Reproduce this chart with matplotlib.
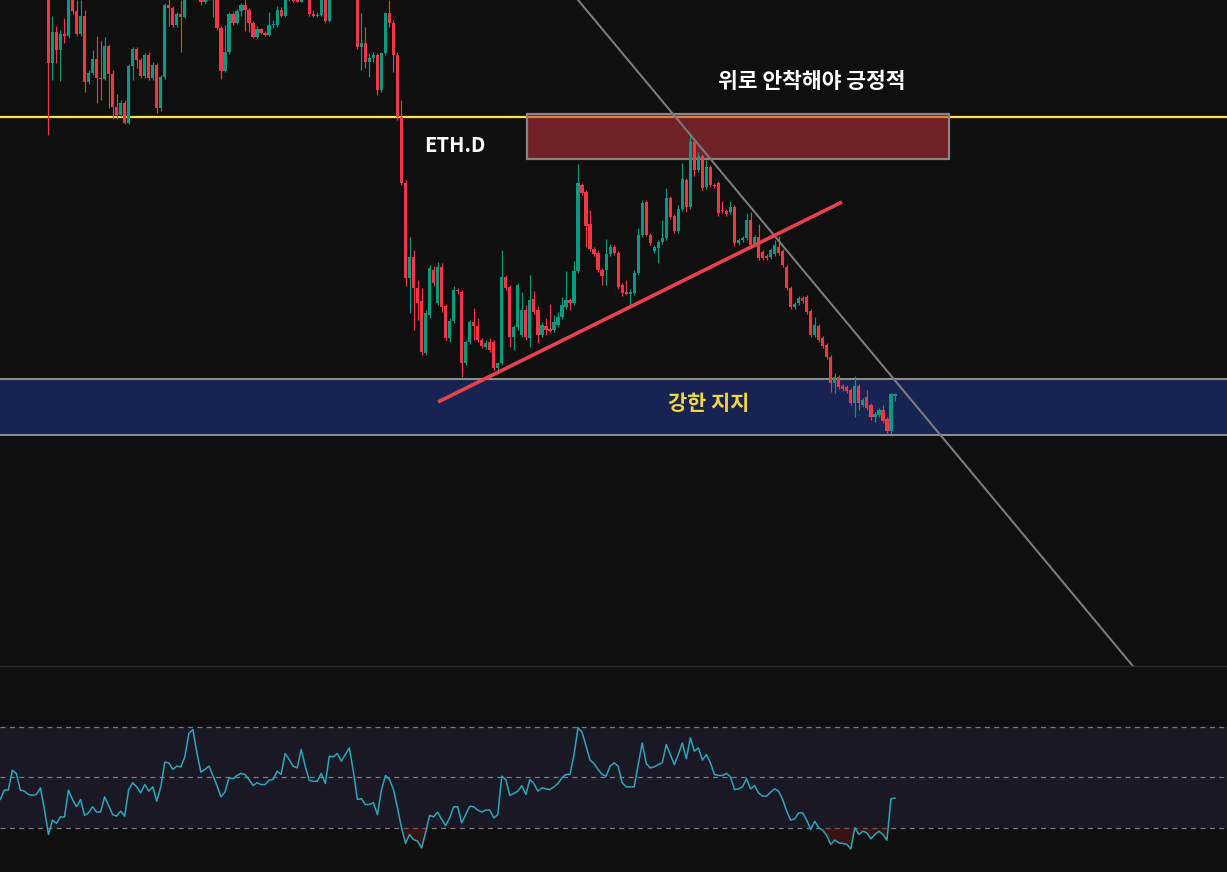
import numpy as np
import matplotlib
matplotlib.use('Agg')
import matplotlib.pyplot as plt
from matplotlib.patches import Rectangle
from matplotlib.lines import Line2D

plt.rcParams['font.family'] = ['Noto Sans CJK KR', 'DejaVu Sans']

# ETH.D candles (price %), oldest first
opens = [
    22.50, 22.60, 22.70, 22.70, 23.00, 22.95, 22.70, 22.67, 22.60, 22.57, 22.59, 22.68,
    22.30, 21.37, 21.68, 21.50, 21.66, 21.64, 22.10, 21.89, 21.66, 21.84,
    21.18, 21.27, 21.41, 21.22, 21.21, 21.54, 21.26, 20.93, 20.85, 20.97,
    20.77, 21.34, 21.51, 21.40, 21.24, 21.45, 21.22, 21.35, 20.92, 21.23,
    21.95, 21.92, 21.75, 21.86, 21.83, 22.08, 22.60, 22.85, 22.50, 21.98,
    22.04, 22.12, 22.03, 21.72, 21.29, 21.48, 21.86, 21.77, 21.89, 21.95,
    21.90, 21.77, 21.63, 21.71, 21.67, 21.65, 21.75, 21.75, 21.90, 21.84,
    22.03, 22.00, 21.99, 21.985, 22.20, 22.05, 21.86, 21.84, 21.85, 22.05,
    21.79, 22.10, 22.12, 22.20, 22.08, 22.18, 22.30, 22.10, 21.53, 21.57,
    21.38, 21.42, 21.45, 21.10, 21.47, 21.87, 21.77, 21.45, 20.83, 20.17,
    19.22, 19.43, 19.12, 18.99, 18.47, 18.85, 19.30, 18.97, 19.33, 18.94,
    18.62, 18.79, 19.10,
    19.08, 18.37, 18.58, 18.78, 18.74, 18.60, 18.53, 18.58, 18.58, 18.32,
    18.37, 19.23, 19.13, 18.63, 18.73,
    18.65, 18.90, 18.62, 19.01, 18.90, 18.65, 18.74, 18.71, 18.70, 18.75,
    18.83, 18.93, 19.00, 18.97, 19.29, 20.15, 20.08, 19.76, 19.51, 19.47,
    19.30, 19.30, 19.46, 19.53, 19.47, 19.15, 19.07, 19.06, 19.07, 19.27,
    19.65, 19.98, 19.65, 19.49, 19.52, 19.58, 19.62, 20.02, 19.84, 19.69,
    19.91, 20.20, 19.93, 20.58, 20.30, 20.44, 20.13, 20.33, 20.15, 20.17,
    19.90, 19.89, 19.88, 19.93, 19.57, 19.60, 19.62, 19.80, 19.55, 19.63,
    19.48, 19.44, 19.43, 19.46, 19.53, 19.49, 19.33, 19.12, 18.93, 18.97,
    19.02, 19.03, 18.89, 18.65, 18.74, 18.62, 18.55, 18.43, 18.17, 18.23,
    18.14, 18.13, 18.10, 17.97, 18.14, 17.95, 18.03, 17.95, 17.83, 17.85,
    17.90, 17.81, 17.69, 18.04,
]
highs = [
    22.66, 22.76, 22.78, 23.06, 23.04, 22.98, 22.75, 22.70, 22.65, 22.64, 22.72, 22.70,
    22.35, 21.84, 21.74, 21.70, 21.82, 22.20, 22.15, 22.00, 22.00, 21.90,
    21.30, 21.50, 21.64, 21.59, 21.63, 21.56, 21.30, 21.06, 21.00, 21.00,
    21.36, 21.53, 21.53, 21.42, 21.47, 21.48, 21.38, 21.37, 21.25, 21.97,
    22.02, 21.94, 21.88, 22.00, 22.15, 22.66, 22.95, 22.90, 22.55, 22.12,
    22.20, 22.16, 22.08, 21.74, 21.75, 21.88, 21.88, 21.91, 21.97, 22.05,
    21.92, 21.79, 21.74, 21.72, 21.69, 21.88, 21.80, 21.94, 21.93, 22.10,
    22.10, 22.06, 22.04, 22.26, 22.24, 22.08, 21.90, 21.88, 22.08, 22.10,
    22.15, 22.18, 22.25, 22.24, 22.22, 22.35, 22.34, 22.14, 21.87, 21.73,
    21.47, 21.48, 21.47, 21.48, 21.88, 22.00, 21.80, 21.48, 21.00, 20.20,
    19.63, 19.50, 19.20, 19.12, 18.90, 19.35, 19.34, 19.38, 19.37, 18.96,
    18.82, 19.14, 19.12,
    19.10, 18.60, 18.80, 18.92, 18.82, 18.62, 18.60, 18.62, 18.60, 18.38,
    19.50, 19.25, 19.15, 18.75, 19.17,
    19.08, 18.95, 19.25, 19.09, 18.94, 18.78, 18.82, 18.96, 18.85, 18.88,
    19.03, 19.29, 19.02, 19.39, 20.36, 20.17, 20.10, 19.90, 19.53, 19.50,
    19.32, 19.61, 19.56, 19.55, 19.49, 19.17, 19.20, 19.11, 19.30, 19.72,
    20.00, 20.00, 19.67, 19.55, 19.60, 19.80, 20.12, 20.04, 19.86, 19.95,
    20.37, 20.22, 20.67, 20.60, 20.48, 20.46, 20.40, 20.35, 20.17, 20.19,
    19.99, 19.91, 19.99, 19.95, 19.62, 19.64, 19.87, 19.88, 19.65, 19.76,
    19.50, 19.46, 19.52, 19.60, 19.64, 19.51, 19.35, 19.14, 18.98, 19.04,
    19.04, 19.05, 18.91, 18.83, 18.76, 18.64, 18.57, 18.45, 18.27, 18.25,
    18.16, 18.15, 18.12, 18.24, 18.16, 18.02, 18.10, 17.97, 17.88, 17.92,
    17.95, 17.83, 18.07, 18.07,
]
lows = [
    22.45, 22.55, 22.64, 22.66, 22.88, 22.65, 22.60, 22.55, 22.50, 22.52, 22.55, 22.25,
    20.65, 21.20, 21.37, 21.19, 21.57, 21.62, 21.86, 21.64, 21.64, 21.08,
    21.16, 21.25, 20.97, 21.00, 21.20, 20.92, 20.81, 20.81, 20.83, 20.76,
    20.76, 21.20, 21.32, 21.22, 21.22, 21.20, 21.20, 20.87, 20.89, 21.21,
    21.74, 21.73, 21.73, 21.48, 21.82, 22.05, 22.55, 22.45, 21.95, 21.96,
    22.00, 21.83, 21.70, 21.21, 21.28, 21.46, 21.75, 21.76, 21.84, 21.69,
    21.68, 21.62, 21.62, 21.66, 21.64, 21.64, 21.72, 21.73, 21.83, 21.83,
    21.99, 21.98, 21.98, 21.98, 22.02, 21.84, 21.83, 21.83, 21.84, 21.77,
    21.78, 22.05, 22.08, 22.03, 22.05, 22.14, 22.02, 21.51, 21.30, 21.32,
    21.23, 21.38, 21.05, 21.08, 21.45, 21.73, 21.28, 20.80, 20.15, 19.14,
    18.87, 18.70, 18.80, 18.45, 18.45, 18.82, 19.14, 18.95, 18.88, 18.60,
    18.58, 18.77, 19.06,
    18.23, 18.35, 18.56, 18.60, 18.58, 18.52, 18.51, 18.48, 18.30, 18.29,
    18.35, 19.10, 18.53, 18.50, 18.70,
    18.63, 18.60, 18.53, 18.86, 18.57, 18.63, 18.65, 18.68, 18.68, 18.73,
    18.81, 18.91, 18.90, 18.95, 19.27, 20.05, 19.53, 19.49, 19.44, 19.28,
    19.15, 19.15, 19.44, 19.45, 19.11, 19.04, 19.05, 18.93, 19.05, 19.25,
    19.63, 19.64, 19.55, 19.47, 19.37, 19.56, 19.60, 19.81, 19.67, 19.67,
    19.89, 19.88, 19.91, 20.24, 20.28, 20.10, 20.11, 20.13, 20.12, 19.84,
    19.87, 19.84, 19.86, 19.54, 19.55, 19.58, 19.60, 19.53, 19.53, 19.40,
    19.40, 19.40, 19.41, 19.44, 19.45, 19.33, 19.10, 18.91, 18.91, 18.95,
    18.97, 18.86, 18.63, 18.63, 18.58, 18.52, 18.41, 18.08, 18.07, 18.11,
    18.09, 18.07, 17.95, 17.83, 17.90, 17.93, 17.90, 17.80, 17.78, 17.83,
    17.77, 17.67, 17.66, 17.99,
]
closes = [
    22.60, 22.70, 22.705, 23.00, 22.95, 22.70, 22.67, 22.60, 22.57, 22.59, 22.68, 22.30,
    21.37, 21.68, 21.50, 21.66, 21.64, 22.10, 21.89, 21.66, 21.84, 21.18,
    21.27, 21.41, 21.22, 21.21, 21.54, 21.26, 20.93, 20.85, 20.97, 20.77,
    21.34, 21.51, 21.40, 21.24, 21.45, 21.22, 21.35, 20.92, 21.23, 21.95,
    21.92, 21.75, 21.86, 21.83, 22.08, 22.60, 22.85, 22.50, 21.98, 22.04,
    22.12, 22.03, 21.72, 21.29, 21.48, 21.86, 21.77, 21.89, 21.95, 21.90,
    21.77, 21.63, 21.71, 21.67, 21.65, 21.75, 21.76, 21.90, 21.84, 22.03,
    22.00, 21.99, 21.985, 22.20, 22.05, 21.86, 21.84, 21.85, 22.05, 21.79,
    22.10, 22.12, 22.20, 22.08, 22.18, 22.30, 22.10, 21.53, 21.57, 21.38,
    21.42, 21.45, 21.10, 21.47, 21.87, 21.77, 21.45, 20.83, 20.17, 19.22,
    19.43, 19.12, 18.97, 18.48, 18.87, 19.32, 19.17, 19.33, 18.93, 18.62,
    18.79, 19.10, 19.09,
    18.37, 18.58, 18.78, 18.74, 18.60, 18.54, 18.57, 18.50, 18.32, 18.37,
    19.23, 19.12, 18.63, 18.73, 19.15,
    18.90, 18.63, 19.00, 18.88, 18.65, 18.75, 18.70, 18.69, 18.78, 18.83,
    18.95, 19.00, 18.97, 19.29, 20.17, 20.07, 19.74, 19.51, 19.46, 19.30,
    19.24, 19.46, 19.53, 19.47, 19.13, 19.07, 19.065, 19.08, 19.27, 19.65,
    19.97, 19.65, 19.57, 19.53, 19.58, 19.62, 20.02, 19.83, 19.69, 19.91,
    20.21, 19.93, 20.58, 20.30, 20.44, 20.12, 20.33, 20.15, 20.14, 19.87,
    19.89, 19.86, 19.93, 19.57, 19.60, 19.62, 19.80, 19.55, 19.63, 19.42,
    19.42, 19.42, 19.50, 19.55, 19.47, 19.35, 19.12, 18.93, 18.96, 19.02,
    18.99, 18.88, 18.65, 18.75, 18.60, 18.54, 18.43, 18.17, 18.23, 18.13,
    18.11, 18.09, 17.97, 18.14, 17.97, 18.00, 17.92, 17.83, 17.86, 17.90,
    17.79, 17.69, 18.06, 18.06,
]
rsi = [
    41.3, 45.0, 45.0, 52.9, 51.6, 45.0, 44.6, 43.3, 42.9, 43.3,
    45.9, 37.3, 27.4, 33.1, 31.8, 34.4, 34.4, 45.0, 41.3, 38.4,
    41.3, 35.0, 36.0, 38.4, 36.3, 36.3, 42.3, 38.9, 35.3, 34.7,
    36.7, 34.7, 45.2, 47.9, 46.3, 43.9, 47.2, 44.6, 46.3, 40.6,
    46.3, 56.1, 55.8, 53.2, 54.5, 54.2, 58.2, 67.4, 69.0, 59.8,
    52.1, 53.2, 54.5, 50.8, 46.8, 42.3, 44.2, 49.9, 49.5, 50.8,
    51.6, 51.2, 49.2, 46.8, 47.9, 47.2, 47.2, 48.9, 49.2, 52.5,
    51.2, 59.5, 57.1, 54.5, 53.8, 61.1, 54.5, 48.9, 48.5, 48.5,
    51.6, 47.6, 58.4, 58.2, 59.5, 56.5, 59.1, 61.7, 52.5, 41.3,
    41.6, 39.3, 39.3, 40.0, 35.3, 45.0, 50.8, 49.2, 45.2, 38.0,
    30.1, 23.9, 27.4, 25.4, 24.8, 22.1, 28.1, 35.0, 34.4, 36.3,
    33.4, 31.0, 34.0, 38.4, 38.4, 32.0, 35.3, 38.6, 38.4, 37.1,
    36.3, 37.1, 37.1, 34.0, 35.3, 50.5, 49.2, 42.9, 43.7, 44.6,
    46.8, 43.3, 49.2, 47.6, 44.6, 45.9, 45.5, 45.2, 46.3, 47.6,
    49.9, 51.2, 51.2, 59.1, 69.7, 68.0, 62.4, 56.9, 55.5, 53.2,
    51.2, 50.5, 54.5, 55.8, 54.5, 47.9, 46.3, 46.3, 46.3, 55.1,
    63.7, 55.5, 53.8, 54.2, 55.1, 55.8, 63.1, 59.1, 55.1, 59.1,
    63.7, 57.4, 65.7, 60.4, 61.7, 56.9, 59.1, 55.8, 51.2, 50.8,
    50.8, 51.6, 50.3, 45.2, 45.5, 46.3, 49.5, 45.5, 46.8, 43.9,
    42.6, 42.6, 44.2, 45.5, 44.6, 41.3, 36.7, 33.1, 33.6, 36.0,
    36.0, 33.1, 29.4, 32.7, 30.1, 29.1, 27.0, 23.5, 25.2, 24.1,
    23.9, 23.5, 21.7, 30.1, 27.4, 28.7, 28.1, 25.7, 27.4, 28.7,
    27.4, 25.2, 41.6, 41.8,
]

BG = '#0f0f0f'
UP = '#089981'
DOWN = '#f23645'

o = np.array(opens)
h = np.array(highs)
l = np.array(lows)
c = np.array(closes)
r = np.array(rsi)
x = np.arange(len(c))

fig = plt.figure(figsize=(12.27, 8.72), dpi=100, facecolor=BG)
ax = fig.add_axes([0, 206 / 872, 1, 666 / 872])
ax2 = fig.add_axes([0, 0, 1, 205 / 872])
for a in (ax, ax2):
    a.set_facecolor(BG)
    a.set_xlim(-0.075, 305.76)
    a.axis('off')
ax.set_ylim(15.34, 22.0)
ax2.set_ylim(12.57, 93.76)

# zones and levels
ax.axhline(20.83, color='#f7e04a', lw=1.6, zorder=1)
ax.axhspan(17.65, 18.21, color='#172452', lw=0, zorder=1)
ax.axhline(18.21, color='#8c8c8c', lw=1.5, zorder=2)
ax.axhline(17.65, color='#8c8c8c', lw=1.5, zorder=2)
ax.add_patch(Rectangle((131.3, 20.41), 105.2, 0.45,
                       facecolor=(0.75, 0.19, 0.235, 0.55),
                       edgecolor='#858585', lw=1.6, zorder=2))

# candles
col = np.where(c >= o, UP, DOWN)
ax.vlines(x, l, h, colors=col, lw=0.85, zorder=3)
ax.bar(x, np.maximum(np.abs(c - o), 0.012), bottom=np.minimum(o, c),
       width=0.8, color=col, lw=0, zorder=4)

# trend lines
ax.plot([144.0, 282.3], [22.0, 15.34], color='#7a7a7a', lw=1.5, zorder=6)
ax.plot([109.1, 209.8], [17.98, 19.98], color='#e8414e', lw=2.6,
        solid_capstyle='butt', zorder=6)

ax.text(202.3, 21.19, '위로 안착해야 긍정적', color='white', fontsize=15.5,
        fontweight='bold', ha='center', va='center', zorder=7)
ax.text(113.3, 20.55, 'ETH.D', color='white', fontsize=14.5,
        fontweight='bold', ha='center', va='center', zorder=7)
ax.text(176.6, 17.97, '강한 지지', color='#f4d546', fontsize=15,
        fontweight='bold', ha='center', va='center', zorder=7)

# RSI pane
ax2.axhspan(30, 70, color='#1b1826', lw=0, zorder=0)
for lvl in (70, 50, 30):
    ax2.axhline(lvl, color='#787b86', lw=0.9, dashes=(4, 3.5), zorder=1)
ax2.fill_between(x, r, 30, where=r < 30, interpolate=True,
                 color='#6a1c1c', alpha=0.45, lw=0, zorder=2)
ax2.plot(x, r, color='#2aa6b9', lw=1.1, zorder=3)

fig.add_artist(Line2D([0, 1], [206 / 872, 206 / 872], color='#2a2a2e', lw=1,
                      transform=fig.transFigure))

fig.savefig('out.png', dpi=100, facecolor=BG)
